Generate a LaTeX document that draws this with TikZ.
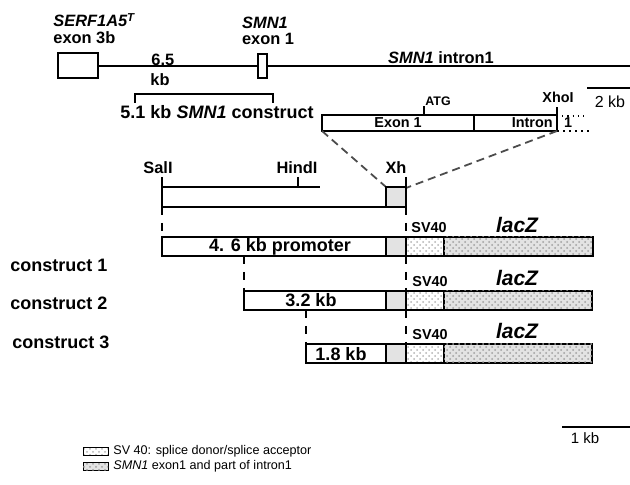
\documentclass[tikz,border=0pt]{standalone}
\usepackage{fontspec}
\setmainfont{Liberation Sans}
\usetikzlibrary{patterns,positioning}

\begin{document}
\begin{tikzpicture}[x=0.5pt,y=-0.5pt,
    lbl/.style={font=\bfseries\fontsize{8.2}{10}\selectfont, inner sep=0pt},
    biglbl/.style={font=\bfseries\fontsize{9}{11}\selectfont, inner sep=0pt},
    smalllbl/.style={font=\bfseries\fontsize{7.2}{9}\selectfont, inner sep=0pt},
    plainlbl/.style={font=\fontsize{6.3}{8}\selectfont, inner sep=0pt},
    segbox/.style={draw, line width=0.6pt},
    smnfill/.style={fill=gray!22},
    svfill/.style={pattern=crosshatch dots, pattern color=gray!60},
    laczfill/.style={fill=gray!22, postaction={pattern=crosshatch dots, pattern color=gray!75}},
    guide/.style={line width=0.6pt, dash pattern=on 4pt off 4pt},
    zoomline/.style={gray!60!black, line width=0.9pt, dash pattern=on 4pt off 2.5pt}]
    \useasboundingbox (0,0) rectangle (630,485);

    % Genomic map
    \draw[line width=0.75pt] (98,66) -- (258,66);
    \draw[line width=0.75pt] (267,66) -- (630,66);
    \draw[segbox, fill=white] (58,53) rectangle (98,78);
    \draw[segbox, fill=white] (258,54) rectangle (267,78);
    \node[lbl, anchor=west] (serf) at (53,20) {\itshape SERF1A5\textsuperscript{T}};
    \node[lbl, anchor=west] (exthree) at (53,38) {exon 3b};
    \node[lbl] (smn) at (265,23) {\itshape SMN1};
    \node[lbl] (exone) at (268,39) {exon 1};
    \node[lbl, anchor=west] (dist) at (151,60) {6.5};
    \node[lbl, anchor=west] (distkb) at (150,80) {kb};
    \node[lbl] (intron) at (441,58) {\textit{SMN1} intron1};

    % Construct bracket
    \draw[line width=1pt] (135,103) -- (135,94) -- (273,94) -- (273,103);
    \node[biglbl] (constr) at (217,112) {5.1 kb \textit{SMN1} construct};

    % Scale bar 2 kb
    \draw[line width=0.6pt] (587,88) -- (630,88);
    \node[font=\fontsize{8}{10}\selectfont, inner sep=0pt] (twokb) at (610,102) {2 kb};

    % Exon 1 / intron detail
    \draw[segbox] (322,115) rectangle (557,131);
    \draw[line width=0.6pt] (474,115) -- (474,131);
    \node[smalllbl] (exlbl) at (398,123) {Exon 1};
    \node[smalllbl, anchor=east] (inlbl) at (553,123) {Intron};
    \node[smalllbl] (inone) at (568,123) {1};
    \draw[line width=0.6pt] (424,115) -- (424,106);
    \node[font=\bfseries\fontsize{6.2}{8}\selectfont, inner sep=0pt, anchor=west] (atg) at (425,101) {ATG};
    \draw[line width=0.6pt] (557,131) -- (557,107);
    \node[smalllbl] (xhoi) at (558,97) {XhoI};
    \draw[line width=0.6pt, dotted] (557,116) -- (587,116);
    \draw[line width=1pt, dotted] (557,131) -- (590,131);

    % Zoom lines
    \draw[zoomline] (322,131) -- (386,187);
    \draw[zoomline] (557,131) -- (406,188);

    % Cloned fragment
    \node[lbl] (sali) at (158,168) {SalI};
    \node[lbl] (hindi) at (297,168) {HindI};
    \node[lbl] (xh) at (396,168) {Xh};
    \draw[line width=0.6pt] (162,177) -- (162,207) -- (406,207);
    \draw[line width=0.6pt] (162,187) -- (320,187);
    \draw[line width=0.6pt] (298,177) -- (298,187);
    \draw[segbox, smnfill] (386,187) rectangle (406,207);
    \draw[line width=0.6pt] (406,177) -- (406,187);

    % Guide lines
    \draw[guide] (162,207) -- (162,237);
    \draw[guide] (406,207) -- (406,237);
    \draw[guide] (244,256) -- (244,291);
    \draw[guide] (406,256) -- (406,291);
    \draw[guide] (306,310) -- (306,344);
    \draw[guide] (406,310) -- (406,344);

    % Construct 1
    \draw[segbox, fill=white] (162,237) rectangle (386,256);
    \draw[segbox, smnfill] (386,237) rectangle (406,256);
    \draw[segbox, svfill] (406,237) rectangle (444,256);
    \draw[segbox, laczfill] (444,237) rectangle (593,256);
    \node[biglbl] (promone) at (280,247) {4. 6 kb promoter};
    \node[smalllbl, anchor=west] (svone) at (411,228) {SV40};
    \node[font=\bfseries\itshape\fontsize{10.5}{12}\selectfont, inner sep=0pt] (lacone) at (517,225) {lacZ};
    \node[biglbl, anchor=west] (cone) at (10,265) {construct 1};

    % Construct 2
    \draw[segbox, fill=white] (244,291) rectangle (386,310);
    \draw[segbox, smnfill] (386,291) rectangle (406,310);
    \draw[segbox, svfill] (406,291) rectangle (444,310);
    \draw[segbox, laczfill] (444,291) rectangle (592,310);
    \node[biglbl] (promtwo) at (311,300) {3.2 kb};
    \node[smalllbl, anchor=west] (svtwo) at (412,282) {SV40};
    \node[font=\bfseries\itshape\fontsize{10.5}{12}\selectfont, inner sep=0pt] (lactwo) at (517,278) {lacZ};
    \node[biglbl, anchor=west] (ctwo) at (10,303) {construct 2};

    % Construct 3
    \draw[segbox, fill=white] (306,344) rectangle (386,363);
    \draw[segbox, smnfill] (386,344) rectangle (406,363);
    \draw[segbox, svfill] (406,344) rectangle (444,363);
    \draw[segbox, laczfill] (444,344) rectangle (592,363);
    \node[biglbl] (promthree) at (341,354) {1.8 kb};
    \node[smalllbl, anchor=west] (svthree) at (412,335) {SV40};
    \node[font=\bfseries\itshape\fontsize{10.5}{12}\selectfont, inner sep=0pt] (lacthree) at (517,331) {lacZ};
    \node[biglbl, anchor=west] (cthree) at (12,342) {construct 3};

    % Scale bar 1 kb
    \draw[line width=0.6pt] (562,427) -- (630,427);
    \node[font=\fontsize{7.5}{9}\selectfont, inner sep=0pt] (onekb) at (585,438) {1 kb};

    % Legend
    \draw[line width=0.4pt, svfill] (83,447) rectangle (108,455);
    \node[plainlbl, anchor=west] (legsv) at (113,451) {SV 40: splice donor/splice acceptor};
    \draw[line width=0.4pt, laczfill] (83,462) rectangle (108,470);
    \node[plainlbl, anchor=west] (legsmn) at (113,466) {\textit{SMN1} exon1 and part of intron1};
\end{tikzpicture}
\end{document}
